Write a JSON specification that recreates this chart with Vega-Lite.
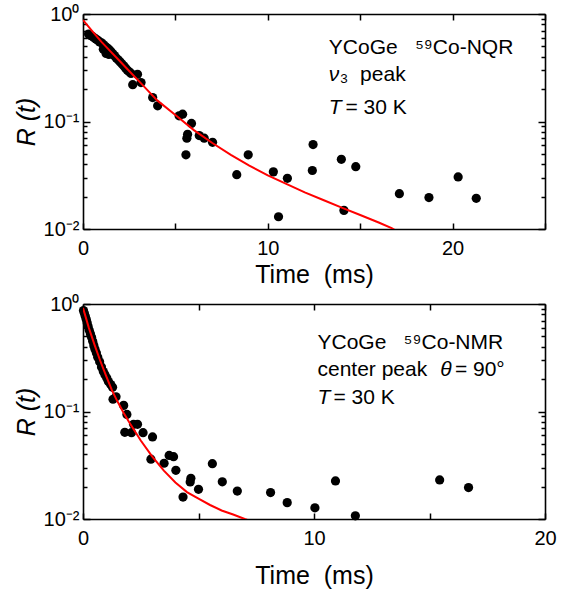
{
  "$schema": "https://vega.github.io/schema/vega-lite/v6.json",
  "background": "white",
  "padding": {"left": 14, "top": 4, "right": 5, "bottom": 5},
  "spacing": 7,
  "config": {
    "font": "Liberation Sans",
    "view": {"stroke": null},
    "axis": {"grid": false, "domainColor": "black", "domainWidth": 1.6, "tickColor": "black", "tickWidth": 1.5, "labelColor": "black", "titleColor": "black", "labelFont": "Liberation Sans", "titleFont": "Liberation Sans", "labelFontSize": 20, "titleFontSize": 25, "titleFontWeight": "normal", "labelFlush": false, "labelOverlap": false},
    "text": {"font": "Liberation Sans", "fontSize": 21, "align": "left", "baseline": "alphabetic", "color": "black"}
  },
  "datasets": {
    "nqr_points": [
      {"t": 0.30, "R": 0.65}, {"t": 0.40, "R": 0.63}, {"t": 0.50, "R": 0.62}, {"t": 0.60, "R": 0.60},
      {"t": 0.70, "R": 0.585}, {"t": 0.80, "R": 0.57}, {"t": 0.90, "R": 0.55}, {"t": 1.00, "R": 0.54},
      {"t": 1.10, "R": 0.52}, {"t": 1.20, "R": 0.50}, {"t": 1.30, "R": 0.485}, {"t": 1.40, "R": 0.47},
      {"t": 1.50, "R": 0.45}, {"t": 1.60, "R": 0.43}, {"t": 1.70, "R": 0.41}, {"t": 1.80, "R": 0.39},
      {"t": 1.90, "R": 0.375}, {"t": 2.00, "R": 0.36}, {"t": 2.10, "R": 0.345}, {"t": 2.20, "R": 0.33},
      {"t": 2.30, "R": 0.315}, {"t": 2.40, "R": 0.30}, {"t": 2.50, "R": 0.29}, {"t": 2.60, "R": 0.28},
      {"t": 1.10, "R": 0.47}, {"t": 1.25, "R": 0.43}, {"t": 1.40, "R": 0.42},
      {"t": 2.95, "R": 0.275}, {"t": 2.69, "R": 0.22}, {"t": 3.14, "R": 0.23},
      {"t": 3.77, "R": 0.167}, {"t": 4.04, "R": 0.14}, {"t": 5.20, "R": 0.113}, {"t": 5.39, "R": 0.117},
      {"t": 5.66, "R": 0.076}, {"t": 5.62, "R": 0.070}, {"t": 5.57, "R": 0.049}, {"t": 5.87, "R": 0.096},
      {"t": 6.29, "R": 0.074}, {"t": 6.56, "R": 0.070}, {"t": 7.01, "R": 0.064},
      {"t": 8.32, "R": 0.032}, {"t": 8.94, "R": 0.049}, {"t": 10.30, "R": 0.034}, {"t": 10.58, "R": 0.013},
      {"t": 11.06, "R": 0.0296}, {"t": 12.45, "R": 0.061}, {"t": 12.41, "R": 0.035},
      {"t": 13.98, "R": 0.0445}, {"t": 14.76, "R": 0.038}, {"t": 14.12, "R": 0.0149},
      {"t": 17.12, "R": 0.0213}, {"t": 18.72, "R": 0.0196}, {"t": 20.30, "R": 0.0305}, {"t": 21.28, "R": 0.0193}
    ],
    "nqr_fit": [
      {"t": 0, "R": 0.879}, {"t": 0.5, "R": 0.692}, {"t": 1, "R": 0.550}, {"t": 1.5, "R": 0.447},
      {"t": 2, "R": 0.363}, {"t": 2.5, "R": 0.295}, {"t": 3, "R": 0.240}, {"t": 3.5, "R": 0.195},
      {"t": 4, "R": 0.158}, {"t": 5, "R": 0.115}, {"t": 6, "R": 0.0832}, {"t": 7, "R": 0.0631},
      {"t": 8, "R": 0.0490}, {"t": 9, "R": 0.0389}, {"t": 10, "R": 0.0316}, {"t": 11, "R": 0.0263},
      {"t": 12, "R": 0.0219}, {"t": 13, "R": 0.0186}, {"t": 14, "R": 0.0158}, {"t": 15, "R": 0.0135},
      {"t": 16, "R": 0.0115}, {"t": 16.7, "R": 0.0102}, {"t": 17, "R": 0.0095}
    ],
    "nmr_points": [
      {"t": 0.02, "R": 0.87}, {"t": 0.06, "R": 0.82}, {"t": 0.10, "R": 0.77}, {"t": 0.14, "R": 0.72},
      {"t": 0.18, "R": 0.67}, {"t": 0.22, "R": 0.62}, {"t": 0.27, "R": 0.57}, {"t": 0.32, "R": 0.53},
      {"t": 0.37, "R": 0.49}, {"t": 0.42, "R": 0.45}, {"t": 0.47, "R": 0.41}, {"t": 0.52, "R": 0.38},
      {"t": 0.58, "R": 0.35}, {"t": 0.64, "R": 0.32}, {"t": 0.72, "R": 0.29}, {"t": 0.80, "R": 0.26},
      {"t": 0.88, "R": 0.235}, {"t": 0.95, "R": 0.22}, {"t": 1.03, "R": 0.205}, {"t": 1.10, "R": 0.19},
      {"t": 1.20, "R": 0.178}, {"t": 1.28, "R": 0.168}, {"t": 1.43, "R": 0.137}, {"t": 1.30, "R": 0.13},
      {"t": 1.76, "R": 0.114}, {"t": 1.90, "R": 0.094}, {"t": 1.81, "R": 0.064}, {"t": 2.10, "R": 0.0635},
      {"t": 2.19, "R": 0.076}, {"t": 2.36, "R": 0.076}, {"t": 2.60, "R": 0.0635}, {"t": 3.01, "R": 0.058},
      {"t": 2.94, "R": 0.036}, {"t": 3.51, "R": 0.033}, {"t": 3.73, "R": 0.039}, {"t": 3.92, "R": 0.038},
      {"t": 4.02, "R": 0.0284}, {"t": 4.33, "R": 0.016}, {"t": 4.67, "R": 0.0239}, {"t": 4.64, "R": 0.0221},
      {"t": 5.00, "R": 0.0189}, {"t": 5.60, "R": 0.0327}, {"t": 6.03, "R": 0.0222}, {"t": 6.68, "R": 0.0182},
      {"t": 8.12, "R": 0.0176}, {"t": 8.84, "R": 0.0142}, {"t": 10.04, "R": 0.0127}, {"t": 10.93, "R": 0.0226},
      {"t": 11.79, "R": 0.0107}, {"t": 15.44, "R": 0.0231}, {"t": 16.69, "R": 0.0196}
    ],
    "nmr_fit": [
      {"t": 0, "R": 0.92}, {"t": 0.25, "R": 0.603}, {"t": 0.5, "R": 0.417}, {"t": 0.75, "R": 0.295},
      {"t": 1.0, "R": 0.214}, {"t": 1.25, "R": 0.158}, {"t": 1.5, "R": 0.123}, {"t": 1.75, "R": 0.0977},
      {"t": 2.0, "R": 0.0794}, {"t": 2.5, "R": 0.0537}, {"t": 3.0, "R": 0.0380}, {"t": 3.5, "R": 0.0282},
      {"t": 4.0, "R": 0.0219}, {"t": 4.5, "R": 0.0178}, {"t": 5.0, "R": 0.0155}, {"t": 5.5, "R": 0.0135},
      {"t": 6.0, "R": 0.0120}, {"t": 6.5, "R": 0.0110}, {"t": 7.0, "R": 0.0100}, {"t": 7.3, "R": 0.0095}
    ],
    "nqr_note": [
      {"t": 13.3, "R": 0.425, "label": "YCoGe\u00a0\u00a0\u00a0⁵⁹Co-NQR"},
      {"t": 13.9, "R": 0.238, "label": "₃\u00a0\u00a0peak"},
      {"t": 14.2, "R": 0.1175, "label": "= 30 K"}
    ],
    "nqr_note_it": [
      {"t": 13.3, "R": 0.238, "label": "ν"},
      {"t": 13.3, "R": 0.1175, "label": "T"}
    ],
    "nmr_note": [
      {"t": 10.15, "R": 0.381, "label": "YCoGe\u00a0\u00a0\u00a0⁵⁹Co-NMR"},
      {"t": 10.15, "R": 0.214, "label": "center peak"},
      {"t": 16.1, "R": 0.214, "label": "= 90°"},
      {"t": 10.84, "R": 0.1175, "label": "= 30 K"}
    ],
    "nmr_note_it": [
      {"t": 15.46, "R": 0.214, "label": "θ"},
      {"t": 10.15, "R": 0.1175, "label": "T"}
    ]
  },
  "vconcat": [
    {
      "width": 462,
      "height": 215,
      "layer": [
        {
          "data": {"name": "nqr_points"},
          "mark": {"type": "circle", "color": "black", "opacity": 1, "size": 85},
          "encoding": {
            "x": {"field": "t", "type": "quantitative", "scale": {"domain": [0, 25], "nice": false, "zero": false},
              "axis": {"orient": "bottom", "values": [0, 5, 10, 15, 20, 25], "labelExpr": "datum.value % 10 == 0 ? datum.label : ''", "tickSize": -6, "labelPadding": 15, "title": "Time\u00a0\u00a0(ms)", "titlePadding": 4}},
            "y": {"field": "R", "type": "quantitative", "scale": {"type": "log", "domain": [0.01, 1], "nice": false},
              "axis": {"orient": "left", "values": [0.01, 0.02, 0.03, 0.04, 0.05, 0.06, 0.07, 0.08, 0.09, 0.1, 0.2, 0.3, 0.4, 0.5, 0.6, 0.7, 0.8, 0.9, 1],
                "labelExpr": "datum.value == 1 ? '10⁰' : datum.value == 0.1 ? '10⁻¹' : datum.value == 0.01 ? '10⁻²' : ''",
                "tickSize": {"condition": {"test": "datum.value == 1 || datum.value == 0.1 || datum.value == 0.01", "value": -7}, "value": -4},
                "labelPadding": 11, "labelBaseline": "middle", "title": "R (t)", "titleFontStyle": "italic", "titlePadding": 4}}
          }
        },
        {
          "data": {"name": "nqr_fit"},
          "mark": {"type": "line", "color": "#ff0000", "strokeWidth": 2, "clip": true},
          "encoding": {
            "x": {"field": "t", "type": "quantitative", "scale": {"domain": [0, 25], "nice": false, "zero": false},
              "axis": {"orient": "top", "values": [0, 5, 10, 15, 20, 25], "labels": false, "tickSize": -6, "title": null}},
            "y": {"field": "R", "type": "quantitative", "scale": {"type": "log", "domain": [0.01, 1], "nice": false},
              "axis": {"orient": "right", "values": [0.01, 0.02, 0.03, 0.04, 0.05, 0.06, 0.07, 0.08, 0.09, 0.1, 0.2, 0.3, 0.4, 0.5, 0.6, 0.7, 0.8, 0.9, 1],
                "labels": false, "tickSize": {"condition": {"test": "datum.value == 1 || datum.value == 0.1 || datum.value == 0.01", "value": -7}, "value": -4}, "title": null}}
          }
        },
        {
          "data": {"name": "nqr_note"},
          "mark": {"type": "text"},
          "encoding": {
            "x": {"field": "t", "type": "quantitative", "axis": null},
            "y": {"field": "R", "type": "quantitative", "axis": null},
            "text": {"field": "label"}
          }
        },
        {
          "data": {"name": "nqr_note_it"},
          "mark": {"type": "text", "fontStyle": "italic"},
          "encoding": {
            "x": {"field": "t", "type": "quantitative", "axis": null},
            "y": {"field": "R", "type": "quantitative", "axis": null},
            "text": {"field": "label"}
          }
        }
      ]
    },
    {
      "width": 462,
      "height": 215,
      "layer": [
        {
          "data": {"name": "nmr_points"},
          "mark": {"type": "circle", "color": "black", "opacity": 1, "size": 85},
          "encoding": {
            "x": {"field": "t", "type": "quantitative", "scale": {"domain": [0, 20], "nice": false, "zero": false},
              "axis": {"orient": "bottom", "values": [0, 5, 10, 15, 20], "labelExpr": "datum.value % 10 == 0 ? datum.label : ''", "tickSize": -6, "labelPadding": 15, "title": "Time\u00a0\u00a0(ms)", "titlePadding": 15}},
            "y": {"field": "R", "type": "quantitative", "scale": {"type": "log", "domain": [0.01, 1], "nice": false},
              "axis": {"orient": "left", "values": [0.01, 0.02, 0.03, 0.04, 0.05, 0.06, 0.07, 0.08, 0.09, 0.1, 0.2, 0.3, 0.4, 0.5, 0.6, 0.7, 0.8, 0.9, 1],
                "labelExpr": "datum.value == 1 ? '10⁰' : datum.value == 0.1 ? '10⁻¹' : datum.value == 0.01 ? '10⁻²' : ''",
                "tickSize": {"condition": {"test": "datum.value == 1 || datum.value == 0.1 || datum.value == 0.01", "value": -7}, "value": -4},
                "labelPadding": 11, "labelBaseline": "middle", "title": "R (t)", "titleFontStyle": "italic", "titlePadding": 4}}
          }
        },
        {
          "data": {"name": "nmr_fit"},
          "mark": {"type": "line", "color": "#ff0000", "strokeWidth": 2, "clip": true},
          "encoding": {
            "x": {"field": "t", "type": "quantitative", "scale": {"domain": [0, 20], "nice": false, "zero": false},
              "axis": {"orient": "top", "values": [0, 5, 10, 15, 20], "labels": false, "tickSize": -6, "title": null}},
            "y": {"field": "R", "type": "quantitative", "scale": {"type": "log", "domain": [0.01, 1], "nice": false},
              "axis": {"orient": "right", "values": [0.01, 0.02, 0.03, 0.04, 0.05, 0.06, 0.07, 0.08, 0.09, 0.1, 0.2, 0.3, 0.4, 0.5, 0.6, 0.7, 0.8, 0.9, 1],
                "labels": false, "tickSize": {"condition": {"test": "datum.value == 1 || datum.value == 0.1 || datum.value == 0.01", "value": -7}, "value": -4}, "title": null}}
          }
        },
        {
          "data": {"name": "nmr_note"},
          "mark": {"type": "text"},
          "encoding": {
            "x": {"field": "t", "type": "quantitative", "axis": null},
            "y": {"field": "R", "type": "quantitative", "axis": null},
            "text": {"field": "label"}
          }
        },
        {
          "data": {"name": "nmr_note_it"},
          "mark": {"type": "text", "fontStyle": "italic"},
          "encoding": {
            "x": {"field": "t", "type": "quantitative", "axis": null},
            "y": {"field": "R", "type": "quantitative", "axis": null},
            "text": {"field": "label"}
          }
        }
      ]
    }
  ]
}
